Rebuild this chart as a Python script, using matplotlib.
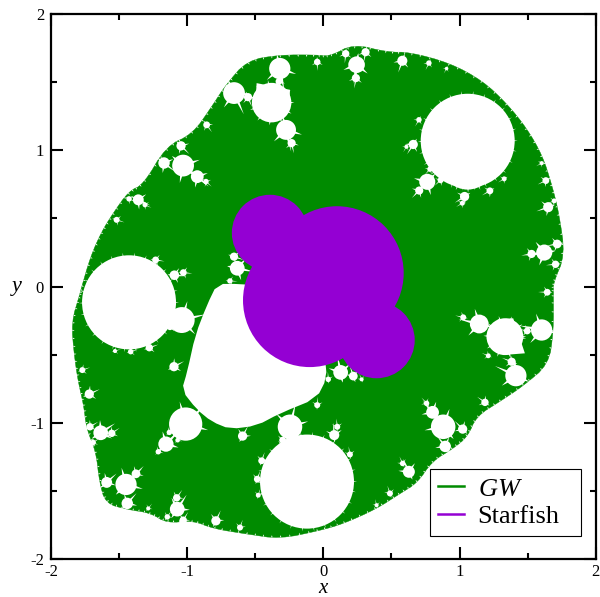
import numpy as np
import matplotlib
matplotlib.use("Agg")
import matplotlib.pyplot as plt
from matplotlib.patches import Polygon, Circle
from matplotlib.collections import PolyCollection

plt.rcParams['font.family'] = ['Liberation Serif', 'DejaVu Serif']
plt.rcParams['mathtext.fontset'] = 'custom'
plt.rcParams['mathtext.it'] = 'Liberation Serif:italic'
plt.rcParams['mathtext.rm'] = 'Liberation Serif'

GREEN = '#008B00'
PURPLE = '#9400D3'

gw_outline = [
    (-1.78,-0.02),(-1.71,0.22),(-1.63,0.40),(-1.55,0.53),(-1.43,0.70),(-1.32,0.75),(-1.155,1.03),
    (-0.96,1.12),(-0.82,1.32),(-0.72,1.475),(-0.56,1.66),(-0.32,1.70),(-0.05,1.70),(0.05,1.69),
    (0.22,1.78),(0.47,1.72),(0.635,1.72),(0.93,1.64),(1.17,1.51),(1.35,1.34),(1.495,1.16),
    (1.61,0.96),(1.68,0.74),(1.73,0.54),(1.775,0.23),(1.69,0.03),(1.69,-0.04),(1.69,-0.33),
    (1.655,-0.57),(1.465,-0.73),(1.30,-0.84),(1.125,-0.95),(1.06,-1.10),(0.95,-1.19),(0.80,-1.28),
    (0.69,-1.44),(0.56,-1.52),(0.39,-1.63),(0.145,-1.74),(-0.03,-1.79),(-0.32,-1.85),
    (-0.56,-1.815),(-0.81,-1.775),(-0.96,-1.715),(-1.15,-1.735),(-1.27,-1.66),(-1.44,-1.635),
    (-1.60,-1.59),(-1.645,-1.43),(-1.67,-1.21),(-1.74,-1.04),(-1.76,-0.87),(-1.80,-0.70),
    (-1.83,-0.50),(-1.85,-0.26),(-1.79,-0.06),
]
central_hole = [
    (-0.78,0.02),(-0.855,-0.135),(-0.94,-0.355),(-1.00,-0.625),(-1.04,-0.76),(-0.93,-0.90),
    (-0.82,-0.99),(-0.685,-1.045),(-0.49,-1.02),(-0.32,-0.93),(-0.05,-0.82),(0.026,-0.67),
    (0.01,-0.5),(-0.4,0.0),(-0.61,0.02),
]
corner_top = [(-0.49,1.493),(-0.245,1.444),(-0.25,1.33),(-0.5,1.33)]
corner_right = [(1.28,-0.24),(1.394,-0.232),(1.48,-0.489),(1.34,-0.5)]

large_holes = [
    (1.06,1.07,0.345),(1.06,0.907,0.195),(-1.427,-0.115,0.345),(-0.12,-1.43,0.345),
    (-0.38,1.35,0.145),(1.333,-0.367,0.135),
]
buds = [
    (-0.32,1.60,.078),(-0.326,1.505,.025),(-0.656,1.42,.08),(-0.553,1.39,.03),(-0.274,1.15,.073),
    (-0.233,1.053,.03),(-1.03,0.888,.08),(-1.17,0.907,.042),(-1.045,1.033,.034),(-0.926,0.807,.047),
    (-0.862,0.771,.02),(-0.857,1.187,.025),(-1.359,0.637,.04),(-1.427,0.644,.02),(-1.31,0.6,.018),
    (-1.518,0.49,.022),(-0.632,0.135,.054),(-0.656,0.22,.03),(-0.686,0.042,.02),(-1.094,0.084,.035),
    (-1.028,0.103,.025),(-1.232,0.196,.025),
    (0.244,1.628,.061),(0.239,1.53,.03),(0.164,1.709,.027),(0.31,1.72,.03),(-0.045,1.648,.024),
    (0.58,1.657,.037),(0.775,1.64,.02),(0.905,1.60,.013),(0.763,0.769,.059),(0.704,0.705,.03),
    (0.861,0.781,.022),(0.783,0.862,.02),(0.66,1.043,.034),(0.61,1.026,.015),(0.702,1.224,.02),
    (1.037,0.661,.034),(1.02,0.612,.018),(1.223,0.703,.025),(1.328,0.791,.018),(1.634,0.778,.025),
    (1.651,0.583,.037),(1.695,0.629,.018),(1.603,0.906,.015),(1.622,0.25,.059),(1.529,0.24,.03),
    (1.717,0.313,.032),(1.705,0.164,.027),
    (-1.04,-0.245,.095),(-1.126,-0.294,.025),(-1.278,-0.448,.027),(-1.415,-0.477,.02),(-1.53,-0.472,.015),
    (-1.097,-0.587,.034),(-1.77,-0.612,.022),(-1.719,-0.788,.034),(-1.635,-1.072,.054),(-1.714,-1.028,.027),
    (-1.554,-1.076,.027),(-1.69,-1.143,.02),(-1.011,-1.008,.122),(-1.156,-1.155,.056),(-1.212,-1.211,.02),
    (-1.07,-1.126,.017),(-1.131,-1.069,.02),(-0.593,-1.096,.034),(-0.453,-1.277,.025),(-0.485,-1.412,.025),
    (-0.478,-1.53,.018),(-1.449,-1.451,.078),(-1.591,-1.436,.04),(-1.376,-1.373,.032),(-1.44,-1.59,.042),
    (-1.073,-1.632,.054),(-1.077,-1.549,.027),(-1.029,-1.713,.027),(-1.146,-1.689,.02),(-0.789,-1.718,.034),
    (-0.612,-1.767,.022),(-1.286,-1.627,.015),(-0.245,-1.028,.09),(-0.299,-1.126,.025),
    (0.127,-0.629,.054),(0.22,-0.656,.032),(0.036,-0.68,.02),(0.281,-0.68,.015),(-0.045,-0.869,.022),
    (0.08,-1.089,.037),(0.102,-1.028,.022),(0.195,-1.231,.022),(1.145,-0.274,.069),(1.027,-0.225,.022),
    (1.603,-0.318,.078),(1.497,-0.325,.025),(1.644,-0.041,.025),(1.383,-0.551,.03),(1.414,-0.653,.078),
    (1.211,-0.507,.018),(1.187,-0.849,.027),(0.88,-1.028,.09),(0.802,-0.922,.047),(0.758,-0.856,.02),
    (1.023,-1.045,.034),(0.895,-1.172,.042),(0.628,-1.358,.044),(0.582,-1.297,.02),(0.489,-1.517,.022),
    (0.391,-1.603,.015),
]
starfish_circles = [
    (0.10,0.10,0.49),(-0.10,-0.10,0.49),(-0.392,0.394,0.28),(0.391,-0.392,0.28),
]
xticks = [-2,-1,0,1,2]
yticks = [-2,-1,0,1,2]
series_names = ['GW','Starfish']


def rounded(vertices, passes=2):
    """Round the corners of a closed outline (corner cutting)."""
    v = np.asarray(vertices, float)
    for _ in range(passes):
        w = np.roll(v, -1, axis=0)
        v = np.column_stack([0.75*v + 0.25*w, 0.25*v + 0.75*w]).reshape(-1, 2)
    return v


def spike(cx, cy, r, ang, length, half):
    a = np.radians(ang)
    d = np.array([np.cos(a), np.sin(a)])
    n = np.array([-d[1], d[0]])
    c = np.array([cx, cy])
    b = c + d * r * 0.9
    return [b + n * half, c + d * (r + length), b - n * half]


fig = plt.figure(figsize=(6.0, 5.97), dpi=100)
ax = fig.add_axes([51/600, 1-559.3/597, (595.7-51)/600, (559.3-14)/597])
ax.set_xlim(-2, 2)
ax.set_ylim(-2, 2)

pts = rounded(gw_outline)
ax.add_patch(Polygon(pts, closed=True, fc=GREEN, ec=GREEN, lw=0.3, zorder=1))

# tiny serrations along the outer edge
ser = []
for i in range(0, len(pts)):
    p, q = pts[i], pts[(i+1) % len(pts)]
    L = np.hypot(*(q-p))
    n_s = max(1, int(L/0.05))
    t = (q-p)/L
    nrm = np.array([-t[1], t[0]])
    if np.dot(nrm, -(p+q)/2) < 0:
        nrm = -nrm
    for k in range(n_s):
        m = p + (q-p)*(k+0.5)/n_s
        ser.append([m - t*0.005, m + nrm*0.016, m + t*0.005])

spikes = list(ser)
for cx, cy, r in buds:
    base = np.degrees(np.arctan2(-cy, -cx))
    ln = min(0.012 + r*0.8, 0.07)
    hw = min(r*0.16, 0.009)
    spikes.append(spike(cx, cy, r, base, ln*1.3, hw))
    spikes.append(spike(cx, cy, r, base+60, ln*0.7, hw))
    spikes.append(spike(cx, cy, r, base-60, ln*0.7, hw))
    spikes.append(spike(cx, cy, r, base+180, ln*0.4, hw))
for cx, cy, r in large_holes:
    for a in np.arange(0, 360, 360/(r*75)):
        spikes.append(spike(cx, cy, r, a, 0.022, 0.007))

ax.add_collection(PolyCollection(spikes, facecolors='white', edgecolors='none', zorder=2))
for cx, cy, r in buds + large_holes:
    ax.add_patch(Circle((cx, cy), r, fc='white', ec='none', zorder=3))
ax.add_patch(Polygon(rounded(central_hole, passes=1), closed=True, fc='white', ec='none', zorder=3))
for poly in (corner_top, corner_right):
    ax.add_patch(Polygon(poly, closed=True, fc='white', ec='none', zorder=3))

for cx, cy, r in starfish_circles:
    ax.add_patch(Circle((cx, cy), r, fc=PURPLE, ec='none', zorder=4))

h1, = ax.plot([], [], color=GREEN, lw=1.8, label=r'$\mathit{GW}$')
h2, = ax.plot([], [], color=PURPLE, lw=1.8, label=series_names[1])

ax.set_xticks(xticks)
ax.set_yticks(yticks)
ax.set_xticklabels([str(v) for v in xticks], fontsize=12)
ax.set_yticklabels([str(v) for v in yticks], fontsize=12)
ax.set_xticks(np.arange(-1.5, 2, 1), minor=True)
ax.set_yticks(np.arange(-1.5, 2, 1), minor=True)
ax.tick_params(which='major', direction='in', length=8.6, width=1.5, top=True, right=True, pad=5)
ax.tick_params(axis='x', which='major', pad=3.5)
ax.tick_params(which='minor', direction='in', length=4.3, width=1.5, top=True, right=True)
for s in ax.spines.values():
    s.set_linewidth(1.6)
    s.set_zorder(10)
ax.set_xlabel('x', fontsize=15, style='italic', va='center')
ax.xaxis.set_label_coords(0.5, (559.3-588.3)/545.3)
ax.set_ylabel('y', fontsize=16, style='italic', rotation=0, va='center', ha='center')
ax.yaxis.set_label_coords((17-51)/544.7, 0.5)

leg = ax.legend(handles=[h1, h2], loc='lower left', bbox_to_anchor=((430-51)/544.7, (559.3-536)/545.3,
                (581-430)/544.7, (536-470.7)/545.3), mode='expand', borderaxespad=0, fontsize=19,
                fancybox=False, framealpha=1, edgecolor='black', handlelength=1.0, handletextpad=0.5,
                labelspacing=0.15, borderpad=0.3)
leg.get_frame().set_linewidth(0.8)
leg.set_zorder(11)

fig.savefig('out.png', dpi=100)
